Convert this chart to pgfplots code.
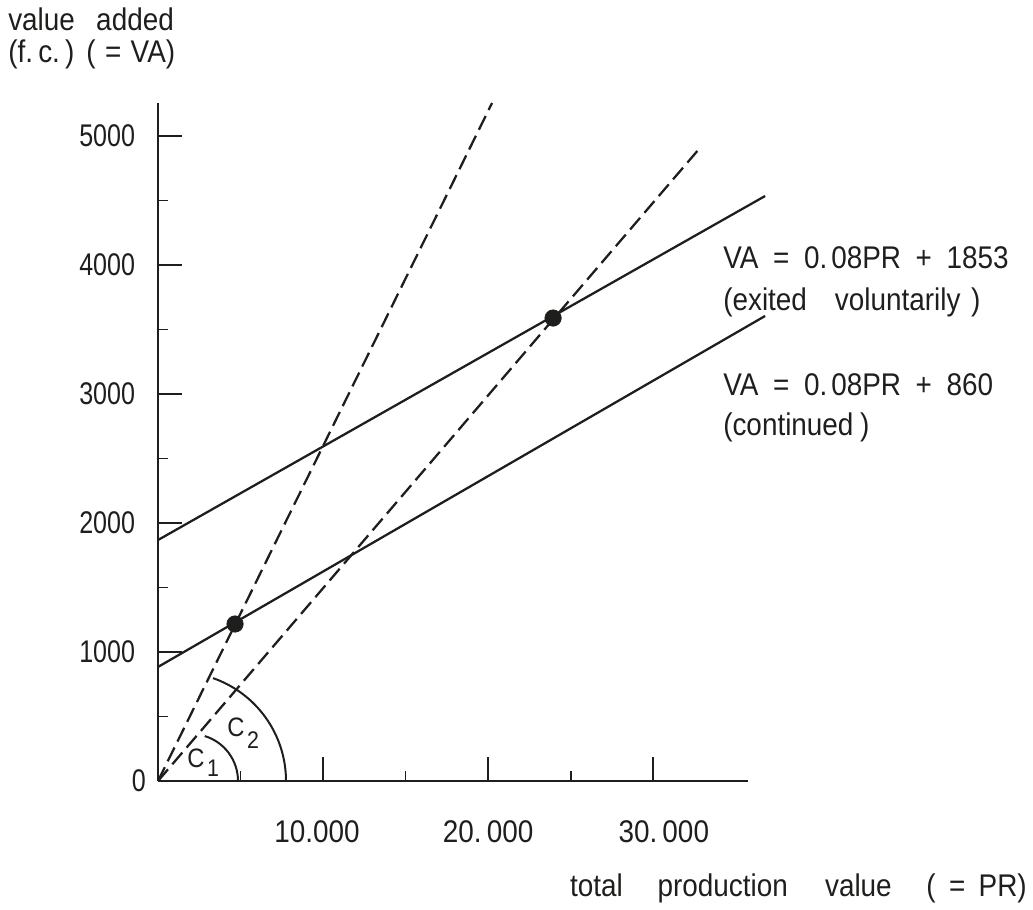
\documentclass[border=0pt]{standalone}
\usepackage{pgfplots}
\pgfplotsset{compat=1.18}
\usepackage{fontspec}
\setmainfont{Liberation Sans}[FakeStretch=0.89]
\newfontfamily\narrowfont{Liberation Sans}[FakeStretch=0.8]
\definecolor{ink}{RGB}{30,30,28}
\newcommand{\txt}{\fontsize{23.5}{28}\selectfont}
\begin{document}
\begin{tikzpicture}[font=\txt, color=ink]
\useasboundingbox (-118.5pt,-96.75pt) rectangle (656.25pt,585.75pt);
\begin{axis}[
  at={(0,0)}, anchor=south west,
  scale only axis, width=442.5pt, height=508.5pt,
  xmin=0, xmax=35750, ymin=0, ymax=5256,
  axis lines=left, axis line style={-, line width=2pt, ink},
  clip=false,
  xtick={10000,20000,30000},
  xticklabels={\hspace*{-9pt}10.000, 20.\,000, 30.\,000\hspace*{-16pt}},
  minor xtick={5000,15000,25000},
  ytick={0,1000,2000,3000,4000,5000}, yticklabels={,1000,2000,3000,4000,5000},
  minor ytick={500,1500,2500,3500,4500},
  tick align=inside,
  major tick length=18pt, minor tick length=7.5pt,
  tick style={line width=1.4pt, ink},
  scaled ticks=false,
  /pgf/number format/assume math mode=true,
  ticklabel style={font=\txt, text=ink},
  xticklabel style={anchor=base, inner sep=0pt, yshift=-46pt},
  yticklabel style={anchor=east, inner sep=0pt, xshift=-17pt, font=\txt\narrowfont},
]
% solid lines (VA = 0.08PR + 1853 and VA = 0.08PR + 860)
\addplot[ink, line width=1.7pt] coordinates {(0,1868) (36788,4535)};
\addplot[ink, line width=1.7pt] coordinates {(0,884) (36788,3605)};
% dashed rays from origin
\addplot[ink, line width=1.7pt, dash pattern=on 11.5pt off 5pt] coordinates {(0,0) (20242,5256)};
\addplot[ink, line width=1.7pt, dash pattern=on 11.5pt off 5pt] coordinates {(0,0) (32727,4891)};
% dots
\addplot[only marks, mark=*, mark size=6.2pt, ink] coordinates {(4667,1217) (23939,3589)};
\end{axis}
% angle arcs
\draw[ink, line width=1.5pt] (24.75pt,0) ++(0:35.25pt) arc[start angle=0, end angle=73, radius=35.25pt];
\draw[ink, line width=1.5pt] (14.25pt,0) ++(0:81.75pt) arc[start angle=0, end angle=70.7, radius=81.75pt];
\node[anchor=base west, inner sep=0pt, font=\fontsize{20}{24}\selectfont] at (21.75pt,9.75pt) {C\hspace{2pt}\raisebox{-6.75pt}{\fontsize{18}{20}\selectfont 1}};
\node[anchor=base west, inner sep=0pt, font=\fontsize{20}{24}\selectfont] at (51.75pt,33pt) {C\hspace{2pt}\raisebox{-9pt}{\fontsize{18}{20}\selectfont 2}};
% zero label
\node[anchor=east, inner sep=0pt, font=\txt\narrowfont] at (-9pt,0pt) {0};
% axis titles
\node[anchor=base west, inner sep=0pt] at (-112.5pt,562.5pt) {value\hspace{16pt}added};
\node[anchor=base west, inner sep=0pt] at (-112.5pt,538.5pt) {(f.\,c.\,)\hspace{9pt}(\hspace{7pt}=\hspace{7pt}VA)};
\node[anchor=base east, inner sep=0pt] at (651.75pt,-87pt) {total\hspace{26pt}production\hspace{28pt}value\hspace{26pt}(\hspace{10pt}=\hspace{10pt}PR)};
% equations
\node[anchor=base west, inner sep=0pt] at (423.75pt,384pt) {VA\hspace{11pt}=\hspace{11pt}0.\hspace{3pt}08PR\hspace{11pt}+\hspace{11pt}1853};
\node[anchor=base west, inner sep=0pt] at (423.75pt,352.5pt) {(exited\hspace{21pt}voluntarily\hspace{8pt})};
\node[anchor=base west, inner sep=0pt] at (423.75pt,288.75pt) {VA\hspace{11pt}=\hspace{11pt}0.\hspace{3pt}08PR\hspace{11pt}+\hspace{11pt}860};
\node[anchor=base west, inner sep=0pt] at (423.75pt,258.75pt) {(continued\hspace{5pt})};
\end{tikzpicture}
\end{document}
